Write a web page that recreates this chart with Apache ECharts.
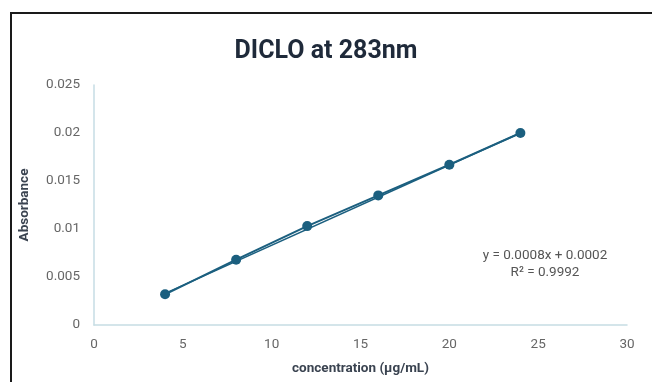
<!DOCTYPE html>
<html>
<head>
<meta charset="utf-8">
<script src="https://cdn.jsdelivr.net/npm/echarts@6/dist/echarts.min.js"></script>
<style>
html,body{margin:0;padding:0;background:#fff;overflow:hidden;}
#chart{width:652px;height:382px;}
</style>
</head>
<body>
<div id="chart"></div>
<script>
var concentration = [4, 8, 12, 16, 20, 24];
var absorbance = [0.0032, 0.0068, 0.0103, 0.0135, 0.0167, 0.0200];
var trendX = [4, 24];
var trendY = [0.0033, 0.0200];
var xTicks = [0, 5, 10, 15, 20, 25, 30];
var yTicks = [0, 0.005, 0.01, 0.015, 0.02, 0.025];
var equationLines = ['y = 0.0008x + 0.0002', 'R² = 0.9992'];

var chart = echarts.init(document.getElementById('chart'));
var color = '#1b5f7f';
var font = 'Roboto, "Liberation Sans", sans-serif';
chart.setOption({
  animation: false,
  title: {
    text: 'DICLO at 283nm',
    left: 'center',
    top: 34,
    textStyle: {fontFamily: font, fontSize: 25, fontWeight: 'bold', color: '#1f2a3a'}
  },
  graphic: [
    {type: 'rect', shape: {x: 11, y: 13, width: 700, height: 420}, style: {fill: 'none', stroke: '#1a1a1a', lineWidth: 2}, silent: true},
    {type: 'text', x: 545, y: 256, style: {text: equationLines[0], fontFamily: font, fontSize: 13.5, fill: '#555', align: 'center', verticalAlign: 'middle'}},
    {type: 'text', x: 545, y: 273, style: {text: equationLines[1], fontFamily: font, fontSize: 13.5, fill: '#555', align: 'center', verticalAlign: 'middle'}}
  ],
  grid: {left: 94, right: 25, top: 85, bottom: 57},
  xAxis: {
    type: 'value', min: xTicks[0], max: xTicks[xTicks.length - 1], interval: 5,
    name: 'concentration (µg/mL)', nameLocation: 'middle', nameGap: 37,
    nameTextStyle: {fontFamily: font, fontSize: 13.5, fontWeight: 'bold', color: '#3a4350'},
    axisLine: {lineStyle: {color: '#c6dde4', width: 1.5}},
    axisTick: {show: false},
    splitLine: {show: false},
    axisLabel: {fontFamily: font, fontSize: 13.5, color: '#666', margin: 13}
  },
  yAxis: {
    type: 'value', min: yTicks[0], max: yTicks[yTicks.length - 1], interval: 0.005,
    name: 'Absorbance', nameLocation: 'middle', nameGap: 62,
    nameTextStyle: {fontFamily: font, fontSize: 13.5, fontWeight: 'bold', color: '#3a4350'},
    axisLine: {show: true, lineStyle: {color: '#c6dde4', width: 1.5}},
    axisTick: {show: false},
    splitLine: {show: false},
    axisLabel: {fontFamily: font, fontSize: 13.5, color: '#666', margin: 14, formatter: function(v){return String(+v.toFixed(3));}}
  },
  series: [
    {
      type: 'line',
      data: trendX.map(function(x, i){return [x, trendY[i]];}),
      symbol: 'none',
      lineStyle: {color: color, width: 1.5},
      silent: true,
      z: 1
    },
    {
      type: 'line',
      data: concentration.map(function(x, i){return [x, absorbance[i]];}),
      symbol: 'circle',
      symbolSize: 10,
      itemStyle: {color: color},
      lineStyle: {color: color, width: 2},
      z: 2
    }
  ]
});
</script>
</body>
</html>
